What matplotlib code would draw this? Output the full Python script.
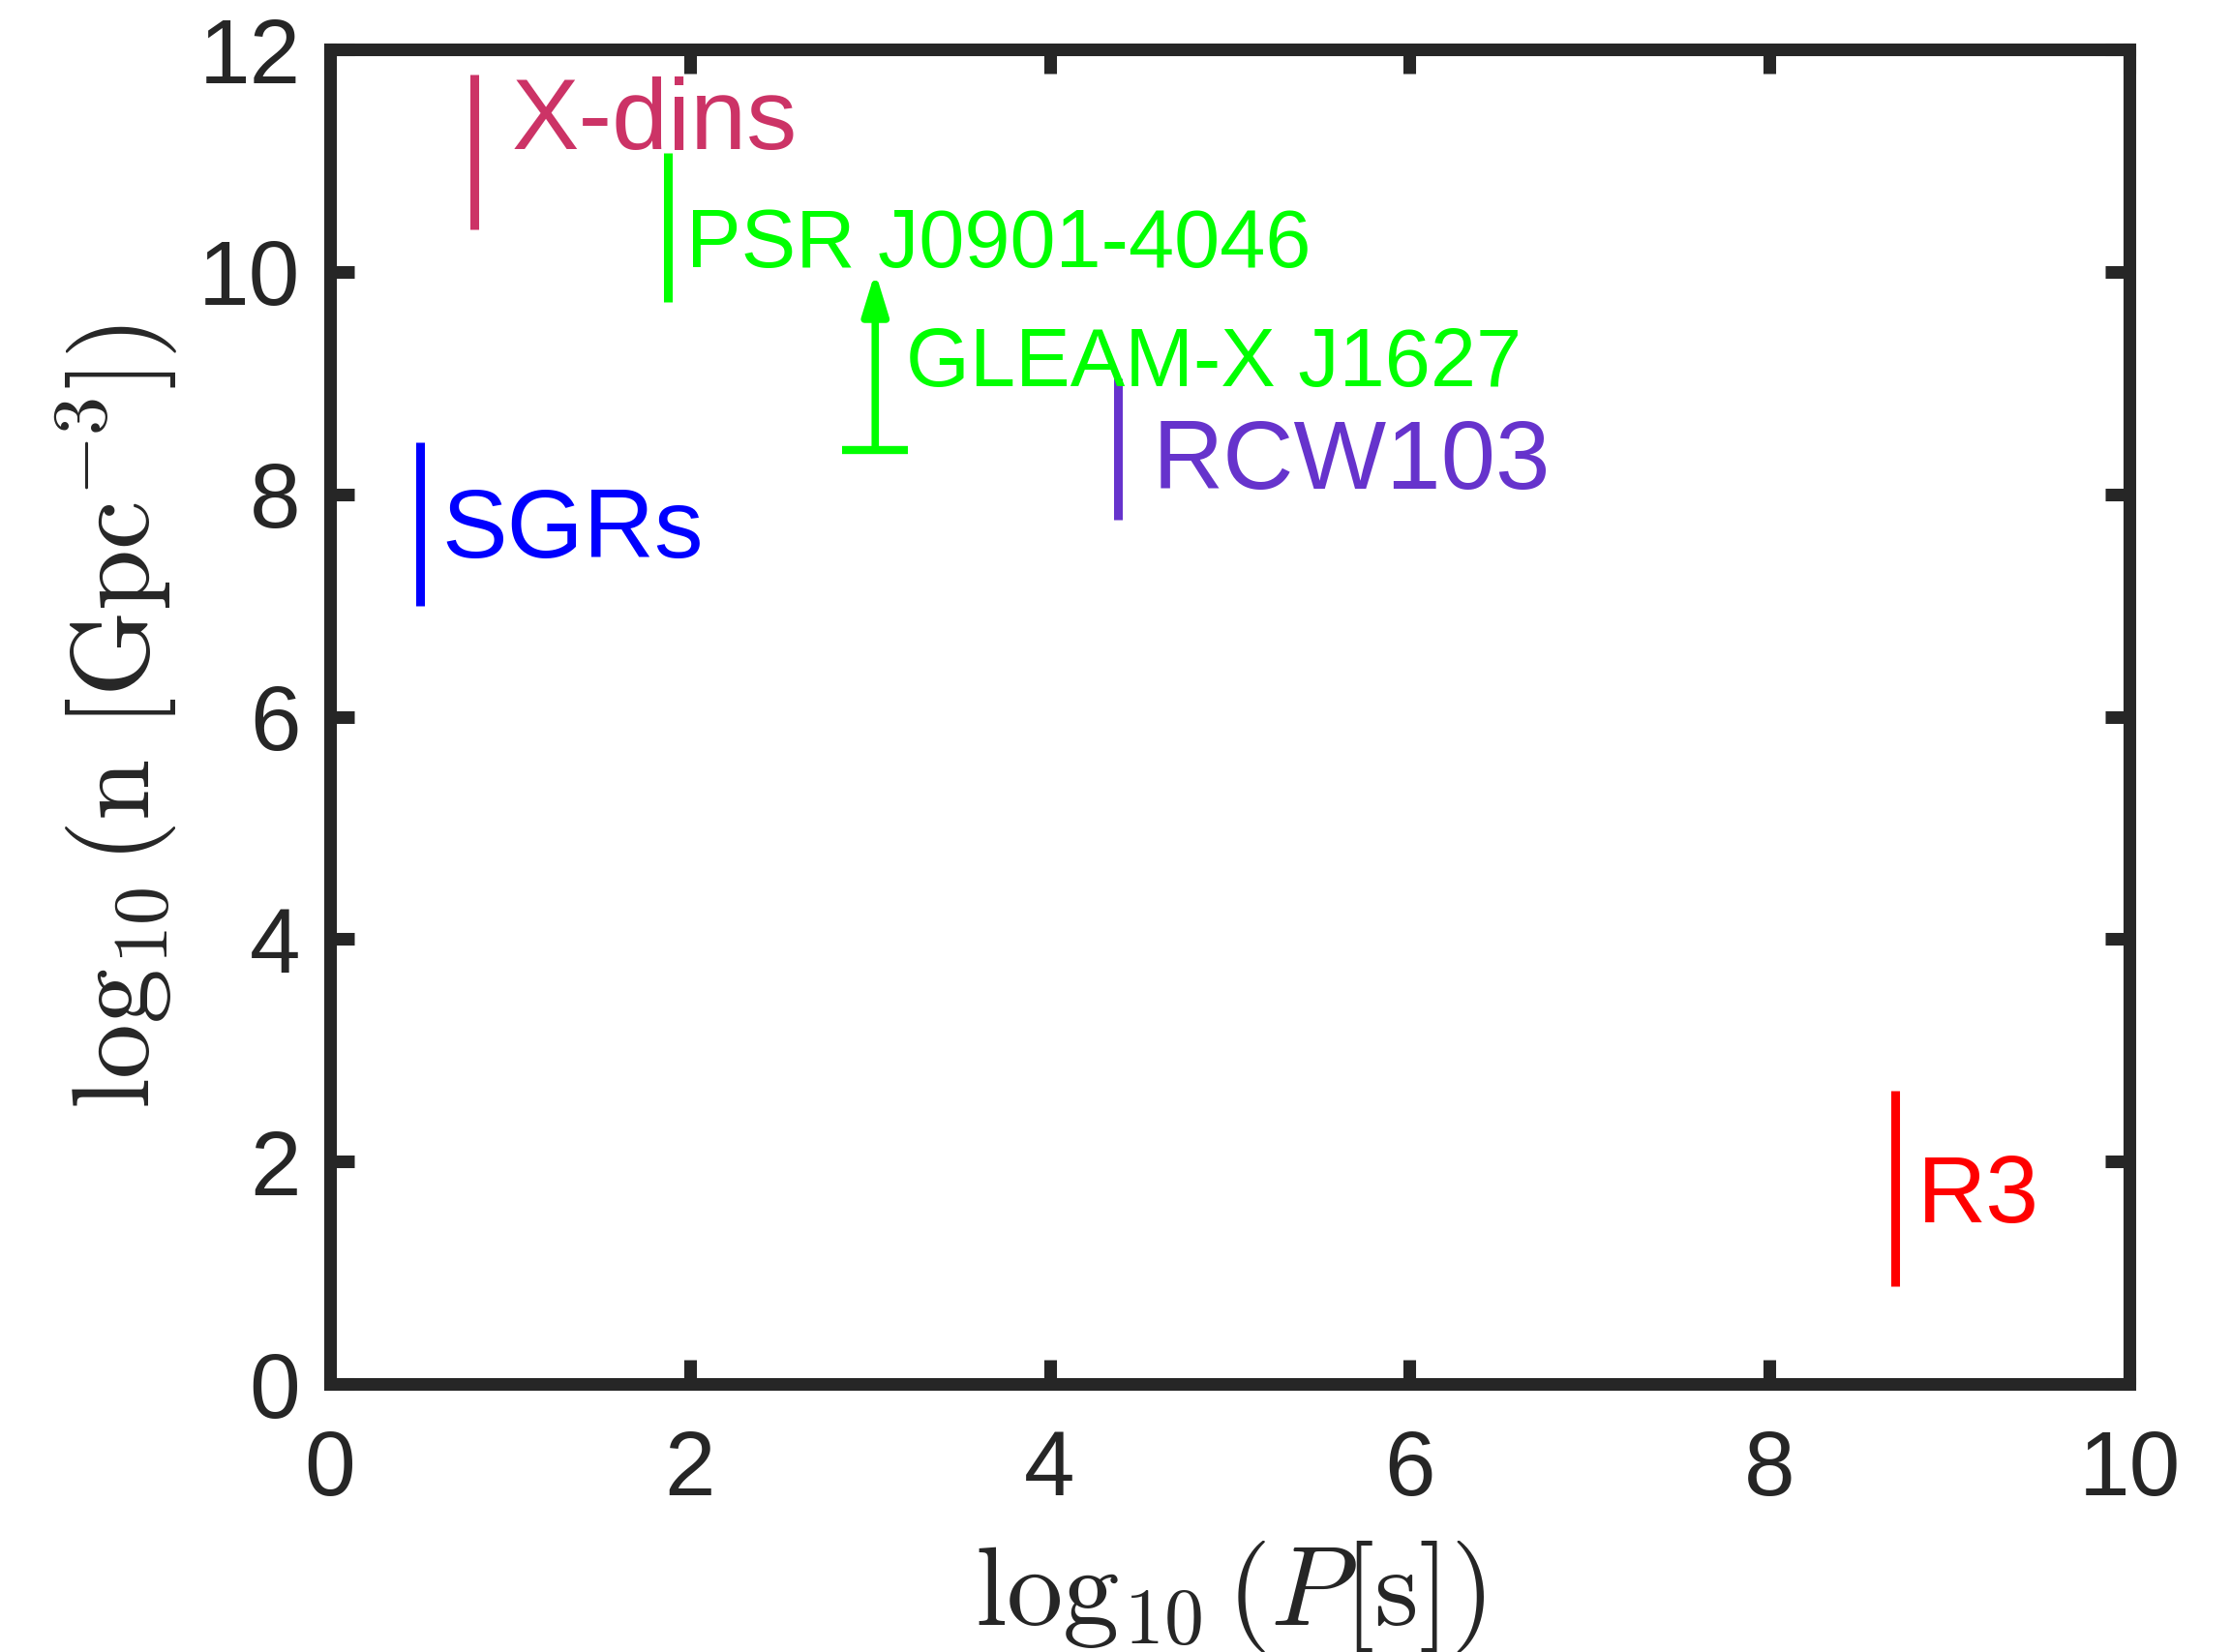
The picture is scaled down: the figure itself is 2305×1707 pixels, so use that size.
import matplotlib
matplotlib.use("Agg")
import matplotlib.pyplot as plt

# ---- data ----
names = ["X-dins", "PSR J0901-4046", "RCW103", "SGRs", "R3"]
logP = [0.80, 1.875, 4.38, 0.50, 8.70]
logn_low = [10.38, 9.73, 7.77, 7.00, 0.88]
logn_high = [11.77, 11.07, 9.04, 8.47, 2.64]
colors = ["#CC3366", "#00FF00", "#6633CC", "#0000FF", "#FF0000"]
label_x = [1.01, 1.98, 4.57, 0.62, 8.82]
label_y = [11.10, 10.04, 8.05, 7.43, 1.45]
label_size = [75, 61, 73, 73, 71]

# lower-limit source
gleam_name = "GLEAM-X J1627"
gleam_logP = 3.03
gleam_low = 8.40
gleam_high = 10.0
gleam_color = "#00FF00"
gleam_label_x = 3.20
gleam_label_y = 8.97

xticks = [0, 2, 4, 6, 8, 10]
yticks = [0, 2, 4, 6, 8, 10, 12]

plt.rcParams["mathtext.fontset"] = "cm"
plt.rcParams["font.family"] = ["Liberation Sans", "DejaVu Sans"]

W, H, DPI = 2305, 1707, 100
fig = plt.figure(figsize=(W / DPI, H / DPI), dpi=DPI)
ax = fig.add_axes([341 / W, 1 - 1430 / H, (2200 - 341) / W, (1430 - 51) / H])

dark = "#262626"
for s in ax.spines.values():
    s.set_linewidth(9.4)
    s.set_color(dark)

ax.set_xlim(0, 10)
ax.set_ylim(0, 12)
ax.set_xticks(xticks)
ax.set_yticks(yticks)
ax.set_xticklabels([str(v) for v in xticks])
ax.set_yticklabels([str(v) for v in yticks])
ax.tick_params(direction="in", length=18, width=9.4, color=dark,
               labelcolor=dark, labelsize=68, top=True, right=True)
ax.tick_params(axis="x", pad=33)
ax.tick_params(axis="y", pad=22)

for n, x, lo, hi, c, tx, ty, fs in zip(names, logP, logn_low, logn_high, colors,
                                       label_x, label_y, label_size):
    ax.plot([x, x], [lo, hi], color=c, lw=6.5, solid_capstyle="butt")
    ax.text(tx, ty, n, color=c, fontsize=fs, va="baseline", ha="left")

# GLEAM-X lower limit: cap + arrow
ax.annotate("", xy=(gleam_logP, gleam_high), xytext=(gleam_logP, gleam_low),
            arrowprops=dict(arrowstyle="-|>,head_length=2.6,head_width=0.8",
                            color=gleam_color, lw=5.5, mutation_scale=10,
                            shrinkA=0, shrinkB=0))
ax.plot([gleam_logP], [gleam_low], marker="_", markersize=49, mew=6,
        color=gleam_color)
ax.text(gleam_label_x, gleam_label_y, gleam_name, color=gleam_color,
        fontsize=61, va="baseline", ha="left")

ax.set_xlabel(r"$\log_{10}(P[\mathrm{s}])$", fontsize=84, color=dark, labelpad=18)
ax.set_ylabel(r"$\log_{10}(\mathrm{n}\ [\mathrm{Gpc}^{-3}])$", fontsize=82,
              color=dark, labelpad=14)

fig.savefig("out.png", dpi=DPI)
